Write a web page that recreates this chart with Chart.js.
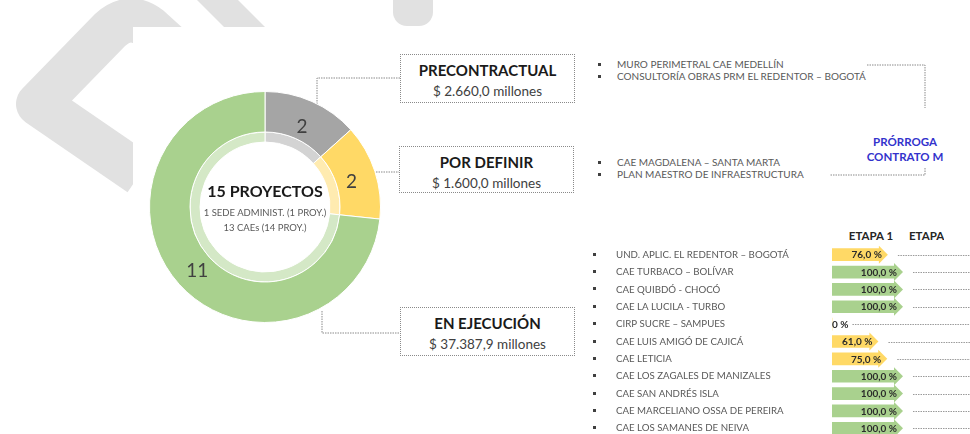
<!DOCTYPE html>
<html lang="es">
<head>
<meta charset="utf-8">
<title>Proyectos</title>
<script src="https://cdn.jsdelivr.net/npm/chart.js@4.4.1/dist/chart.umd.min.js"></script>
<style>
  html, body { margin: 0; padding: 0; background: #fff; }
  #stage { position: relative; width: 970px; height: 434px; overflow: hidden;
           font-family: 'Lato', 'Open Sans', sans-serif; color: #404040; }
  #stage > * { position: absolute; }
  .box { border: 1px dotted #8a8a8a; width: 175px; height: 49px; box-sizing: border-box; }
  .box div { position: absolute; left: 0; right: 0; text-align: center; line-height: 18px; white-space: nowrap; }
  .box .t { top: 6px; font-weight: 700; font-size: 15px; color: #1a1a1a; }
  .box .s { top: 27px; font-size: 13.5px; color: #404040; }
  .list { font-size: 10px; color: #595959; line-height: 11.5px; white-space: nowrap; }
  .list span { display: block; position: relative; padding-left: 19px; }
  .list span::before { content: ''; position: absolute; left: 0; top: 4px; width: 3px; height: 3px; background: #404040; }
  .center { text-align: center; white-space: nowrap; }
  .head { font-weight: 700; font-size: 11.5px; color: #262626; line-height: 14px; white-space: nowrap; }
</style>
</head>
<body>
<div id="stage">
  <svg id="bg" width="970" height="434" style="left:0;top:0">
    <path d="M140 174 L38 104 L110 30 Q130 12 150 28 L172 48" fill="none" stroke="#e1e1e1" stroke-width="44" stroke-linejoin="round"/>
    <polygon fill="#e1e1e1" points="197,0 238,0 265,27 224,27"/>
    <rect fill="#e1e1e1" x="393" y="-20" width="40" height="46" rx="14"/>
    <rect fill="#fff" x="133" y="27" width="837" height="407"/>
  </svg>

  <svg id="lines" width="970" height="434" style="left:0;top:0">
    <g fill="none" stroke="#8a8a8a" stroke-width="1" stroke-dasharray="1.5 1">
      <polyline points="317,104 317,78 400,78"/>
      <polyline points="376,172 399,172"/>
      <polyline points="322,311 322,333 400,333"/>
      <polyline points="867,65 925,65 925,108"/>
      <polyline points="925,168 925,175 830,175"/>
    </g>
  </svg>

  <canvas id="donut" width="232" height="232" style="left:149px;top:91px"></canvas>
  <div id="centerText" class="center" style="left:165px;top:180px;width:200px"></div>

  <div class="box" id="box0" style="left:400px;top:54px"></div>
  <div class="box" id="box1" style="left:399px;top:146px;height:47px"></div>
  <div class="box" id="box2" style="left:400px;top:307px"></div>

  <div class="list" id="list0" style="left:598px;top:59px"></div>
  <div class="list" id="list1" style="left:598px;top:157px"></div>

  <div style="left:855px;top:134px;width:100px;text-align:center;color:#3333cc;font-weight:700;font-size:11.5px;line-height:15px">PRÓRROGA<br>CONTRATO M</div>

  <div id="head1" class="head" style="left:836px;top:229px;width:70px;text-align:center"></div>
  <div id="head2" class="head" style="left:909px;top:229px;width:35px;overflow:hidden"></div>

  <canvas id="bars" width="380" height="191" style="left:590px;top:246px"></canvas>
</div>

<script>
/* ─── Data ─── */
const segmentLabels  = ['PRECONTRACTUAL', 'POR DEFINIR', 'EN EJECUCIÓN'];
const segmentCounts  = [2, 2, 11];
const segmentAmounts = ['$ 2.660,0 millones', '$ 1.600,0 millones', '$ 37.387,9 millones'];
const centerNotes    = ['1 SEDE ADMINIST. (1 PROY.)', '13 CAEs (14 PROY.)'];

const precontractualItems = ['MURO PERIMETRAL CAE MEDELLÍN', 'CONSULTORÍA OBRAS PRM EL REDENTOR – BOGOTÁ'];
const porDefinirItems     = ['CAE MAGDALENA – SANTA MARTA', 'PLAN MAESTRO DE INFRAESTRUCTURA'];

const stageHeaders = ['ETAPA 1', 'ETAPA 2'];
const projectNames = [
  'UND. APLIC. EL REDENTOR – BOGOTÁ',
  'CAE TURBACO – BOLÍVAR',
  'CAE QUIBDÓ - CHOCÓ',
  'CAE LA LUCILA - TURBO',
  'CIRP SUCRE – SAMPUES',
  'CAE LUIS AMIGÓ DE CAJICÁ',
  'CAE LETICIA',
  'CAE LOS ZAGALES DE MANIZALES',
  'CAE SAN ANDRÉS ISLA',
  'CAE MARCELIANO OSSA DE PEREIRA',
  'CAE LOS SAMANES DE NEIVA',
];
const stage1Progress = [76, 100, 100, 100, 0, 61, 75, 100, 100, 100, 100];

/* ─── Colours ─── */
const RING      = ['#a5a5a5', '#ffd966', '#a9d18e'];
const RING_PALE = ['#d3d3d3', '#ffebb0', '#d4e8c6'];
const GREEN = '#a9d18e';
const YELLOW = '#ffd966';
const FONT = "'Lato', 'Open Sans', sans-serif";

/* ─── Static text ─── */
const total = segmentCounts.reduce((a, b) => a + b, 0);
document.getElementById('centerText').innerHTML =
  `<div style="font-weight:700;font-size:16px;color:#1a1a1a;line-height:22px">${total} PROYECTOS</div>` +
  `<div style="font-size:9.5px;color:#595959;line-height:15px;margin-top:3px">${centerNotes.join('<br>')}</div>`;

segmentLabels.forEach((label, i) => {
  document.getElementById('box' + i).innerHTML =
    `<div class="t">${label}</div><div class="s">${segmentAmounts[i]}</div>`;
});

function fillList(id, items) {
  document.getElementById(id).innerHTML = items.map(t => `<span>${t}</span>`).join('');
}
fillList('list0', precontractualItems);
fillList('list1', porDefinirItems);
document.getElementById('head1').textContent = stageHeaders[0];
document.getElementById('head2').textContent = stageHeaders[1];

/* ─── Doughnut ─── */
const donutLabels = {
  id: 'donutLabels',
  afterDatasetsDraw(chart) {
    const { ctx } = chart;
    const meta = chart.getDatasetMeta(0);
    ctx.save();
    ctx.font = `19px ${FONT}`;
    ctx.fillStyle = '#404040';
    ctx.textAlign = 'center';
    ctx.textBaseline = 'middle';
    meta.data.forEach((arc, i) => {
      const mid = (arc.startAngle + arc.endAngle) / 2;
      const r = 91;
      ctx.fillText(String(segmentCounts[i]), arc.x + Math.cos(mid) * r, arc.y + Math.sin(mid) * r + 3);
    });
    ctx.restore();
  },
};

new Chart(document.getElementById('donut'), {
  type: 'doughnut',
  data: {
    labels: segmentLabels,
    datasets: [
      { data: segmentCounts, backgroundColor: RING, borderColor: '#fff', borderWidth: 1, weight: 4.05 },
      { data: segmentCounts, backgroundColor: RING_PALE, borderColor: '#fff', borderWidth: 1, weight: 1 },
    ],
  },
  options: {
    responsive: false,
    animation: false,
    events: [],
    cutout: 65,
    hoverOffset: 0,
    layout: { padding: 0 },
    plugins: { legend: { display: false }, tooltip: { enabled: false } },
  },
  plugins: [donutLabels],
});

/* ─── Progress bars (Etapa 1) ─── */
const arrowBars = {
  id: 'arrowBars',
  afterDraw(chart) {
    const { ctx } = chart;
    const meta = chart.getDatasetMeta(0);
    const right = chart.width;
    ctx.save();
    meta.data.forEach((bar, i) => {
      const v = stage1Progress[i];
      const y = bar.y;
      const h = 12;
      const color = v >= 100 ? GREEN : YELLOW;
      let lineStart;

      // bullet
      ctx.fillStyle = '#404040';
      ctx.fillRect(3, Math.round(y) - 2, 3, 3);

      ctx.font = `700 10px ${FONT}`;
      ctx.textBaseline = 'middle';
      if (v > 0) {
        ctx.fillStyle = color;
        ctx.beginPath();
        ctx.moveTo(bar.x - 1, y - h / 2 - 3);
        ctx.lineTo(bar.x + 8, y);
        ctx.lineTo(bar.x - 1, y + h / 2 + 3);
        ctx.closePath();
        ctx.fill();
        ctx.fillStyle = '#2b2b2b';
        ctx.textAlign = 'right';
        ctx.fillText(v.toFixed(1).replace('.', ',') + ' %', bar.x + 2, y + 0.5);
        lineStart = bar.x + 18;
      } else {
        ctx.fillStyle = '#2b2b2b';
        ctx.textAlign = 'left';
        const txt = '0 %';
        ctx.fillText(txt, bar.base, y + 0.5);
        lineStart = bar.base + ctx.measureText(txt).width + 4;
      }

      ctx.strokeStyle = '#9a9a9a';
      ctx.lineWidth = 1;
      ctx.setLineDash([1.5, 1]);
      ctx.beginPath();
      ctx.moveTo(lineStart, Math.round(y) + 0.5);
      ctx.lineTo(right, Math.round(y) + 0.5);
      ctx.stroke();
      ctx.setLineDash([]);
    });
    ctx.restore();
  },
};

new Chart(document.getElementById('bars'), {
  type: 'bar',
  data: {
    labels: projectNames,
    datasets: [{
      data: stage1Progress,
      backgroundColor: stage1Progress.map(v => (v >= 100 ? GREEN : YELLOW)),
      borderWidth: 0,
      barThickness: 12,
    }],
  },
  options: {
    indexAxis: 'y',
    responsive: false,
    animation: false,
    events: [],
    layout: { padding: { left: 26, right: 75, top: 0, bottom: 0 } },
    scales: {
      x: { display: false, min: 0, max: 100 },
      y: {
        grid: { display: false },
        border: { display: false },
        ticks: { crossAlign: 'far', color: '#595959', padding: 0, font: { family: FONT, size: 9.7 } },
        afterFit(scale) {
          scale.width = 216;
          scale.paddingTop = 0;
          scale.paddingBottom = 0;
        },
      },
    },
    plugins: { legend: { display: false }, tooltip: { enabled: false } },
  },
  plugins: [arrowBars],
});
</script>
</body>
</html>
